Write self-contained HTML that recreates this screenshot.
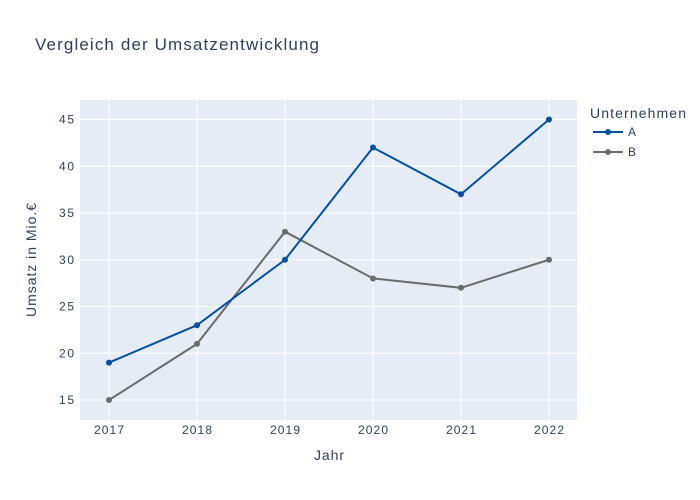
<!DOCTYPE html>
<html><head><meta charset="utf-8"><style>body{margin:0;background:#fff}svg{display:block}text{font-family:"Liberation Sans",sans-serif;fill:#2a3f5f}</style></head><body>
<svg width="700" height="500" xmlns="http://www.w3.org/2000/svg">
<rect x="0" y="0" width="700" height="500" fill="#fff"/>
<rect x="80" y="100" width="497" height="320" fill="#e5ecf6"/>
<g stroke="#fff" stroke-width="1">
<line x1="109" y1="100" x2="109" y2="420"/><line x1="197" y1="100" x2="197" y2="420"/><line x1="285" y1="100" x2="285" y2="420"/><line x1="373" y1="100" x2="373" y2="420"/><line x1="461" y1="100" x2="461" y2="420"/><line x1="549" y1="100" x2="549" y2="420"/>
<line x1="80" y1="400" x2="577" y2="400"/><line x1="80" y1="353.25" x2="577" y2="353.25"/><line x1="80" y1="306.5" x2="577" y2="306.5"/><line x1="80" y1="259.75" x2="577" y2="259.75"/><line x1="80" y1="213" x2="577" y2="213"/><line x1="80" y1="166.25" x2="577" y2="166.25"/><line x1="80" y1="119.5" x2="577" y2="119.5"/>
</g>
<g font-size="12" text-anchor="end">
<text x="74" y="404" textLength="15">15</text><text x="74" y="357.5" textLength="15">20</text><text x="74" y="310.5" textLength="15">25</text><text x="74" y="264" textLength="15">30</text><text x="74" y="217" textLength="15">35</text><text x="74" y="170.5" textLength="15">40</text><text x="74" y="123.5" textLength="15">45</text>
</g>
<g font-size="12" text-anchor="middle">
<text x="109" y="434" textLength="30">2017</text><text x="197" y="434" textLength="30">2018</text><text x="285" y="434" textLength="30">2019</text><text x="373" y="434" textLength="30">2020</text><text x="461" y="434" textLength="30">2021</text><text x="549" y="434" textLength="30">2022</text>
</g>
<text x="329" y="460" font-size="14" text-anchor="middle" textLength="30">Jahr</text>
<text transform="translate(36,260) rotate(-90)" font-size="14" text-anchor="middle" textLength="114">Umsatz in Mio.€</text>
<text x="35" y="50" font-size="17" textLength="284">Vergleich der Umsatzentwicklung</text>
<polyline fill="none" stroke="#6b6b6b" stroke-width="2" points="109,400 197,343.9 285,231.7 373,278.45 461,287.8 549,259.75"/>
<g fill="#6b6b6b"><circle cx="109" cy="400" r="3"/><circle cx="197" cy="343.9" r="3"/><circle cx="285" cy="231.7" r="3"/><circle cx="373" cy="278.45" r="3"/><circle cx="461" cy="287.8" r="3"/><circle cx="549" cy="259.75" r="3"/></g>
<polyline fill="none" stroke="#0450a0" stroke-width="2" points="109,362.6 197,325.2 285,259.75 373,147.55 461,194.3 549,119.5"/>
<g fill="#0450a0"><circle cx="109" cy="362.6" r="3"/><circle cx="197" cy="325.2" r="3"/><circle cx="285" cy="259.75" r="3"/><circle cx="373" cy="147.55" r="3"/><circle cx="461" cy="194.3" r="3"/><circle cx="549" cy="119.5" r="3"/></g>
<text x="590" y="118" font-size="14" textLength="96">Unternehmen</text>
<line x1="593" y1="132" x2="623" y2="132" stroke="#0450a0" stroke-width="2"/><circle cx="608" cy="132" r="3" fill="#0450a0"/>
<text x="628" y="136" font-size="12">A</text>
<line x1="593" y1="152" x2="623" y2="152" stroke="#6b6b6b" stroke-width="2"/><circle cx="608" cy="152" r="3" fill="#6b6b6b"/>
<text x="628" y="156" font-size="12">B</text>
</svg>
</body></html>
